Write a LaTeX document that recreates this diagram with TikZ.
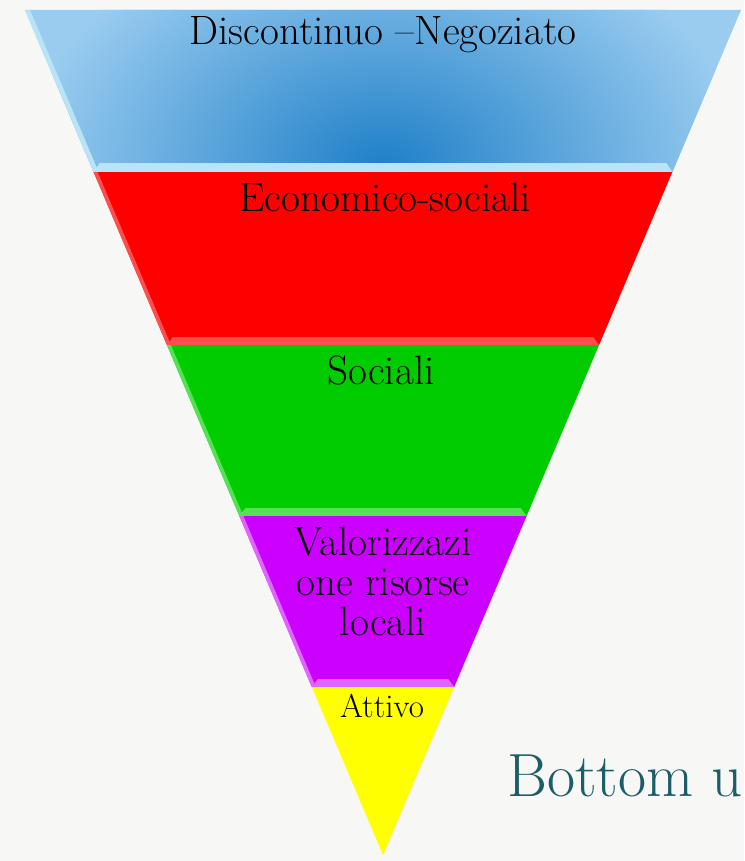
\documentclass[tikz,border=0pt]{standalone}
\usetikzlibrary{calc}

\definecolor{paper}{HTML}{F7F7F6}
\definecolor{skyhi}{HTML}{1F80C8}
\definecolor{skylo}{HTML}{9ACCF0}
\definecolor{skylight}{HTML}{B8E4F8}
\definecolor{bandred}{HTML}{FF0000}
\definecolor{redlight}{HTML}{FF4E4E}
\definecolor{bandgreen}{HTML}{00CC00}
\definecolor{greenlight}{HTML}{55E055}
\definecolor{bandviolet}{HTML}{CC00FF}
\definecolor{violetlight}{HTML}{E066FF}
\definecolor{bandyellow}{HTML}{FFFF00}
\definecolor{tealtext}{HTML}{1B5E68}

\tikzset{
  bandlabel/.style={anchor=base, inner sep=0pt, align=center, font=\fontsize{41}{40}\selectfont},
}

\begin{document}
\begin{tikzpicture}[x=1pt, y=-1pt]
\fill[paper] (0,0) rectangle (744,861);
\useasboundingbox (0,0) rectangle (744,861);

\coordinate (tl) at (25,10);
\coordinate (tr) at (741,10);
\coordinate (apex) at (383,855);
\foreach \i/\t in {1/0.19172, 2/0.39645, 3/0.59882, 4/0.80118}
	{\coordinate (l\i) at ($(tl)!\t!(apex)$);
	 \coordinate (r\i) at ($(tr)!\t!(apex)$);}

% top band, shaded
\fill[skylo] (tl) -- (tr) -- (r1) -- (l1) -- cycle;
\begin{scope}
\clip (tl) -- (tr) -- (r1) -- (l1) -- cycle;
\shade[inner color=skyhi, outer color=skylo] (383,165) ellipse [x radius=360, y radius=250];
\end{scope}
\fill[skylight] ($(l1)+(6,-9)$) -- ($(r1)+(-6,-9)$) -- (r1) -- (l1) -- cycle;
\fill[skylight] (tl) -- ($(tl)+(5,0)$) -- ($(l1)+(5,0)$) -- (l1) -- cycle;

\foreach \a/\b/\col/\lite in {1/2/bandred/redlight, 2/3/bandgreen/greenlight, 3/4/bandviolet/violetlight}
	{\fill[\col] (l\a) -- (r\a) -- (r\b) -- (l\b) -- cycle;
	 \fill[\lite] ($(l\b)+(6,-8)$) -- ($(r\b)+(-6,-8)$) -- (r\b) -- (l\b) -- cycle;
	 \fill[\lite] (l\a) -- ($(l\a)+(4,0)$) -- ($(l\b)+(4,0)$) -- (l\b) -- cycle;}

\fill[bandyellow] (l4) -- (r4) -- (apex) -- cycle;

\node[bandlabel] (negoziato) at (383,45) {Discontinuo –Negoziato};
\node[bandlabel] (economico) at (385,211) {Economico-sociali};
\node[bandlabel] (sociali) at (381,384) {Sociali};
\node[bandlabel, anchor=center] (risorse) at (383,581) {Valorizzazi\\one risorse\\locali};
\node[bandlabel, font=\fontsize{33}{36}\selectfont] (attivo) at (382,717) {Attivo};
\node[anchor=base west, inner sep=0pt, text=tealtext, font=\fontsize{61}{64}\selectfont] (bottomup) at (507,796) {Bottom u};
\end{tikzpicture}
\end{document}
